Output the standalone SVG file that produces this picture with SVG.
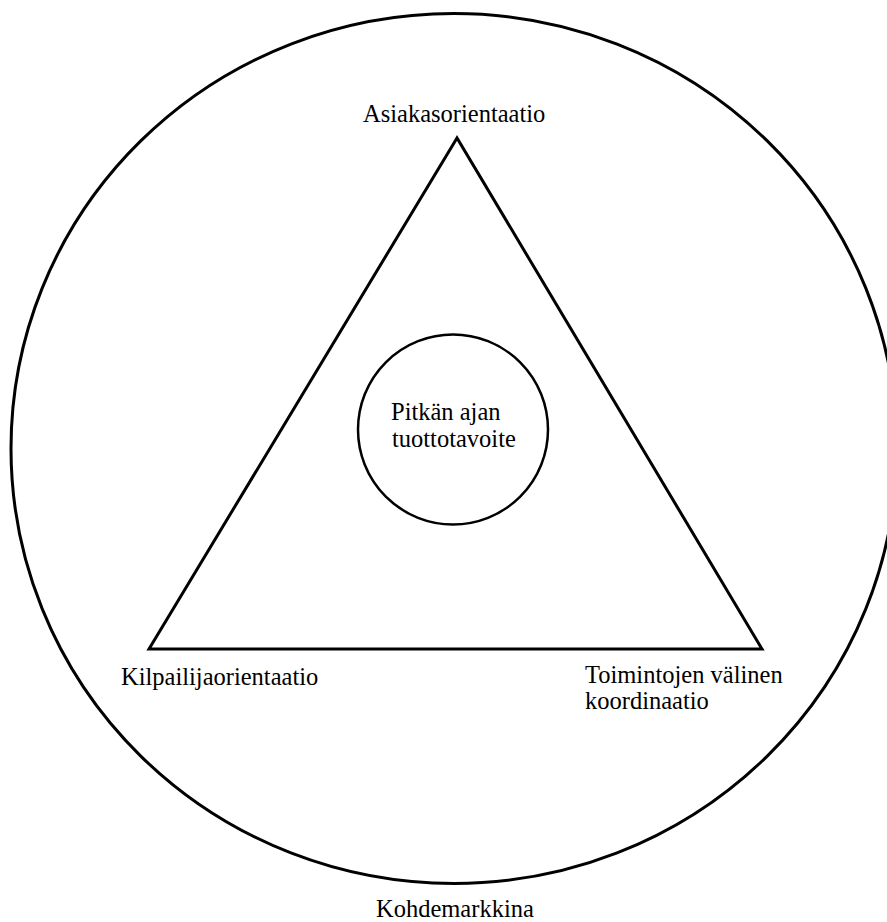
<svg xmlns="http://www.w3.org/2000/svg" width="887" height="922" viewBox="0 0 887 922">
<style>
.shape{fill:none;stroke:#000;}
.lbl{font-family:"Liberation Serif","Times New Roman",serif;font-size:24.5px;fill:#000;}
</style>
<rect width="887" height="922" fill="#fff"/>
<g id="market">
<ellipse class="shape" cx="454" cy="448.5" rx="443" ry="435" stroke-width="3"/>
<text class="lbl" x="376" y="917">Kohdemarkkina</text>
</g>
<g id="triangle">
<polygon class="shape" points="457,138 149,649 762,649" stroke-width="3" stroke-linejoin="miter"/>
</g>
<g id="asiakas">
<text class="lbl" x="363" y="122">Asiakasorientaatio</text>
</g>
<g id="kilpailija">
<text class="lbl" x="121" y="685">Kilpailijaorientaatio</text>
</g>
<g id="toiminnot">
<text class="lbl" x="585" y="683">Toimintojen välinen</text>
<text class="lbl" x="585" y="709">koordinaatio</text>
</g>
<g id="tavoite">
<circle class="shape" cx="453" cy="429.5" r="95" stroke-width="2.5"/>
<text class="lbl" x="391" y="420">Pitkän ajan</text>
<text class="lbl" x="392" y="447">tuottotavoite</text>
</g>
<g id="connectors"></g>
</svg>
